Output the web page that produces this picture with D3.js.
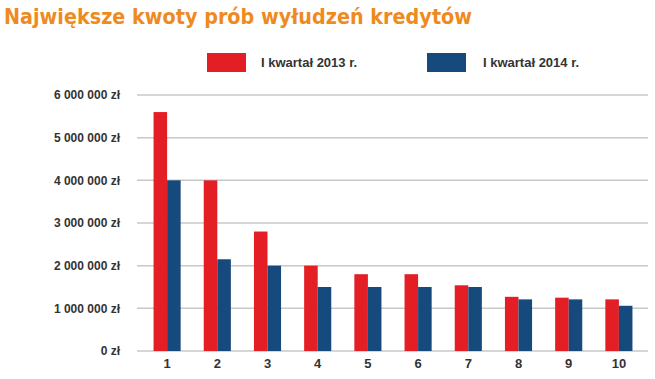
<!DOCTYPE html>
<html>
<head>
<meta charset="utf-8">
<script src="https://cdn.jsdelivr.net/npm/d3@7"></script>
<style>
  body { margin: 0; background: #fff; }
  svg { display: block; font-family: "Liberation Sans", Arial, sans-serif; }
</style>
</head>
<body>
<svg width="655" height="379"></svg>
<script>
// dane
var categories = ["1", "2", "3", "4", "5", "6", "7", "8", "9", "10"];
var seriesNames = ["I kwartał 2013 r.", "I kwartał 2014 r."];
var q2013 = [5600000, 4000000, 2800000, 2000000, 1800000, 1800000, 1540000, 1270000, 1250000, 1210000];
var q2014 = [4000000, 2150000, 2000000, 1500000, 1500000, 1500000, 1500000, 1210000, 1210000, 1060000];
var yTicks = [0, 1000000, 2000000, 3000000, 4000000, 5000000, 6000000];
var colors = ["#e31e24", "#174a7c"];

var svg = d3.select("svg");

// tytul
svg.append("text")
  .attr("x", 4).attr("y", 24)
  .attr("textLength", 468)
  .attr("lengthAdjust", "spacingAndGlyphs")
  .style("font-family", "'DejaVu Sans', sans-serif")
  .style("font-size", "21px")
  .style("font-weight", "bold")
  .style("fill", "#ef8a1e")
  .text("Największe kwoty prób wyłudzeń kredytów");

var x = d3.scaleBand().domain(categories).range([142, 644]).paddingInner(0.46).paddingOuter(0.23);
var xs = d3.scaleBand().domain([0, 1]).range([0, x.bandwidth()]);
var y = d3.scaleLinear().domain([0, 6000000]).range([351, 95]);

// siatka
svg.append("g")
  .selectAll("line")
  .data(yTicks)
  .join("line")
  .attr("x1", 137).attr("x2", 648)
  .attr("y1", function(d) { return y(d); })
  .attr("y2", function(d) { return y(d); })
  .style("stroke", "#c8c8c8")
  .style("stroke-width", "1.5px");

// etykiety osi y
var fmt = function(d) { return d3.format(",")(d).replace(/,/g, " ") + " zł"; };
var yAxis = d3.axisLeft(y).tickValues(yTicks).tickFormat(fmt).tickSize(0).tickPadding(0);
var gy = svg.append("g").attr("transform", "translate(120,0)").call(yAxis);
gy.select(".domain").remove();
gy.selectAll("text")
  .style("font-size", "12px").style("font-weight", "bold").style("fill", "#333")
  .style("font-family", "'Liberation Sans', Arial, sans-serif");

// slupki
var groups = svg.append("g").selectAll("g")
  .data(categories)
  .join("g")
  .attr("transform", function(d) { return "translate(" + x(d) + ",0)"; });

groups.selectAll("rect")
  .data(function(d, i) { return [q2013[i], q2014[i]]; })
  .join("rect")
  .attr("x", function(d, j) { return xs(j); })
  .attr("width", xs.bandwidth())
  .attr("y", function(d) { return y(d); })
  .attr("height", function(d) { return y(0) - y(d); })
  .style("fill", function(d, j) { return colors[j]; });

// etykiety osi x
var xAxis = d3.axisBottom(x).tickSize(0).tickPadding(0);
var gx = svg.append("g").attr("transform", "translate(0,359)").call(xAxis);
gx.select(".domain").remove();
gx.selectAll("text")
  .style("font-size", "13px").style("font-weight", "bold").style("fill", "#333")
  .style("font-family", "'Liberation Sans', Arial, sans-serif");

// legenda
var legend = [[207, 261], [427, 483]];
seriesNames.forEach(function(name, i) {
  svg.append("rect")
    .attr("x", legend[i][0]).attr("y", 53)
    .attr("width", 39).attr("height", 19)
    .style("fill", colors[i]);
  svg.append("text")
    .attr("x", legend[i][1]).attr("y", 67)
    .style("font-size", "13px").style("font-weight", "bold").style("fill", "#333")
    .text(name);
});
</script>
</body>
</html>
